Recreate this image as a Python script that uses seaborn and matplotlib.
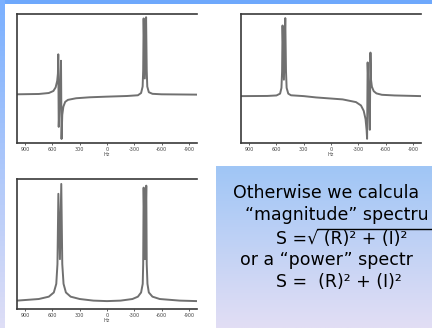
import numpy as np
import pandas as pd
import matplotlib.pyplot as plt
import seaborn as sns

sns.set_style("white")
plt.rcParams['font.family'] = ['DejaVu Sans']

# =========================
# DATA
# =========================
# panel 1: dispersive doublet at ~515 Hz, absorptive doublet at ~-415 Hz
hz_p1 = [990, 750, 640, 590, 565, 548, 540, 536, 531, 518, 506, 500, 492, 480, 460, 430,
         340, 190, 0, -220, -340, -375, -392, -398, -403, -416, -430, -437, -443, -460,
         -500, -600, -990]
int_p1 = [0.004, 0.008, 0.02, 0.045, 0.09, 0.17, 0.26, 0.50, -0.40, 0.0, 0.42, -0.55, -0.25,
          -0.15, -0.09, -0.065, -0.045, -0.033, -0.025, -0.017, -0.008, 0.02, 0.1, 0.3, 0.945,
          0.2, 0.96, 0.3, 0.1, 0.03, 0.01, 0.004, 0.0]

# panel 2: absorptive doublet at ~515 Hz, inverted dispersive doublet at ~-415 Hz
hz_p2 = [990, 700, 600, 560, 545, 538, 533, 518, 503, 495, 488, 470, 440, 300, 165, -128,
         -275, -330, -360, -380, -392, -397, -403, -415, -427, -434, -440, -450, -470, -500,
         -560, -700, -990]
int_p2 = [0.0, 0.002, 0.008, 0.03, 0.1, 0.3, 0.86, 0.2, 0.95, 0.3, 0.1, 0.03, 0.01, 0.0,
          -0.016, -0.04, -0.073, -0.114, -0.18, -0.28, -0.42, -0.52, 0.41, 0.0, -0.41, 0.53,
          0.2, 0.114, 0.06, 0.033, 0.016, 0.008, 0.0]

# panel 3: magnitude spectrum
hz_p3 = [990, 750, 640, 585, 558, 545, 535, 518, 503, 492, 478, 452, 400, 300, 150, 0,
         -150, -280, -340, -375, -393, -398, -403, -417, -432, -437, -445, -460, -500, -580,
         -800, -990]
int_p3 = [0.014, 0.027, 0.046, 0.08, 0.15, 0.31, 0.88, 0.35, 0.96, 0.31, 0.15, 0.08, 0.046,
          0.027, 0.014, 0.01, 0.014, 0.027, 0.046, 0.08, 0.15, 0.31, 0.93, 0.35, 0.946, 0.31,
          0.15, 0.08, 0.046, 0.027, 0.014, 0.01]

tick_hz = [900, 600, 300, 0, -300, -600, -900]
tick_labels = ["900", "600", "300", "0", "-300", "-600", "-900"]

# slide text, as much as is visible (the slide is cut at the right edge)
text_lines = ["Otherwise we calcula",
              "\u201cmagnitude\u201d spectru",
              "S =\u221a (R)\u00b2 + (I)\u00b2",
              "or a \u201cpower\u201d spectr",
              "S =  (R)\u00b2 + (I)\u00b2"]
text_x = [233, 245, 276, 240, 276]
text_y = [193, 215, 239, 260, 282]

# =========================
# FIGURE + SLIDE BACKGROUND
# =========================
W, H = 432, 328
fig = plt.figure(figsize=(W / 100, H / 100), dpi=100)
fig.patch.set_facecolor("white")

bg = fig.add_axes([0, 0, 1, 1], zorder=-5)
bg.axis("off")


def vgrad(c_top, c_bot, n=64):
    a = np.array(c_top) / 255.0
    b = np.array(c_bot) / 255.0
    t = np.linspace(0, 1, n)[:, None, None]
    return a[None, None, :] * (1 - t) + b[None, None, :] * t


bg.imshow(vgrad((110, 168, 252), (110, 168, 252), 2), extent=[0, W, 4, 0], aspect="auto")
bg.imshow(vgrad((122, 176, 255), (222, 222, 246)), extent=[0, 5, H, 0], aspect="auto")
bg.imshow(vgrad((160, 198, 246), (226, 222, 244)), extent=[216, W, H, 166], aspect="auto")
bg.set_xlim(0, W)
bg.set_ylim(H, 0)

for x, y, s in zip(text_x, text_y, text_lines):
    bg.text(x, y, s, fontsize=12.5, ha="left", va="center", color="black")
# bar of the square root
bg.plot([317, W], [229, 229], color="black", lw=1.0)

# =========================
# SPECTRA
# =========================
frames = {
    "p1": [17 / W, 1 - 143 / H, 180 / W, 129 / H],
    "p2": [241 / W, 1 - 143 / H, 180 / W, 129 / H],
    "p3": [17 / W, 1 - 309 / H, 180 / W, 130 / H],
}
spectra = {
    "p1": (hz_p1, int_p1, (-0.6, 1.0)),
    "p2": (hz_p2, int_p2, (-0.571, 1.0)),
    "p3": (hz_p3, int_p3, (-0.054, 1.0)),
}

for key, rect in frames.items():
    hz, inten, ylim = spectra[key]
    df = pd.DataFrame({"Hz": hz, "I": inten})
    ax = fig.add_axes(rect)
    sns.lineplot(data=df, x="Hz", y="I", ax=ax, color="#707070", lw=1.4,
                 estimator=None, sort=False)
    ax.set_xlim(990, -990)
    ax.set_ylim(*ylim)
    ax.set_facecolor("white")
    ax.set_yticks([])
    ax.set_ylabel("")
    ax.set_xticks(tick_hz)
    ax.set_xticklabels(tick_labels)
    ax.tick_params(axis="x", labelsize=3.5, length=1.5, width=0.6, pad=1.2,
                   colors="#444444", bottom=True)
    ax.set_xlabel("Hz", fontsize=3.5, labelpad=0.5, color="#444444")
    for side in ["top", "left", "bottom"]:
        ax.spines[side].set_color("#3a3a3a")
        ax.spines[side].set_linewidth(1.2)
    ax.spines["right"].set_visible(False)

fig.savefig("out.png", dpi=100)
